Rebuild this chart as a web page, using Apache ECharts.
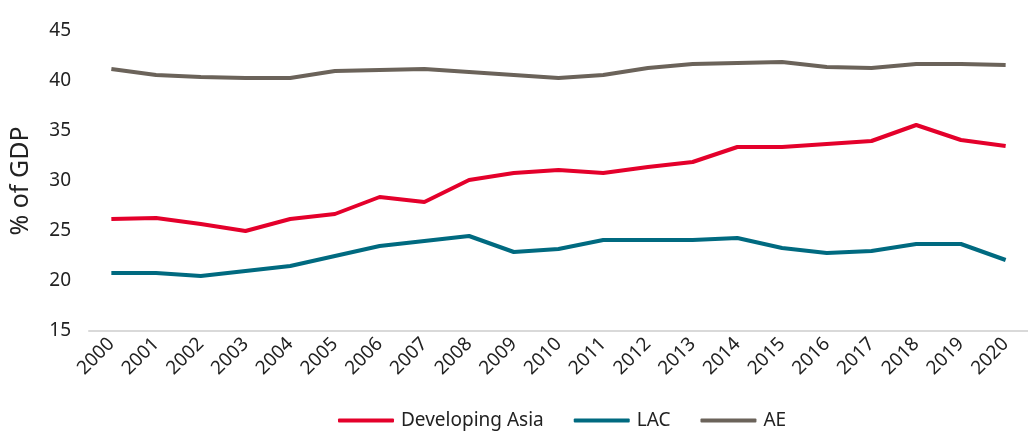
<!DOCTYPE html>
<html>
<head>
<meta charset="utf-8">
<script src="https://cdn.jsdelivr.net/npm/echarts@6/dist/echarts.min.js"></script>
<style>html,body{margin:0;padding:0;background:#fff}#c{width:1028px;height:434px}</style>
</head>
<body>
<div id="c"></div>
<script>
const years = ['2000','2001','2002','2003','2004','2005','2006','2007','2008','2009','2010','2011','2012','2013','2014','2015','2016','2017','2018','2019','2020'];
const developingAsia = [26.2,26.3,25.7,25.0,26.2,26.7,28.4,27.9,30.1,30.8,31.1,30.8,31.4,31.9,33.4,33.4,33.7,34.0,35.6,34.1,33.5];
const lac = [20.8,20.8,20.5,21.0,21.5,22.5,23.5,24.0,24.5,22.9,23.2,24.1,24.1,24.1,24.3,23.3,22.8,23.0,23.7,23.7,22.1];
const ae = [41.2,40.6,40.4,40.3,40.3,41.0,41.1,41.2,40.9,40.6,40.3,40.6,41.3,41.7,41.8,41.9,41.4,41.3,41.7,41.7,41.6];
const yTicks = {min:15, max:45, interval:5};
const font = 'Noto Sans';
const chart = echarts.init(document.getElementById('c'));
const mk = (name, data, color) => ({
  name, type:'line', data, symbol:'none', smooth:false,
  lineStyle:{width:4, color}, itemStyle:{color}
});
chart.setOption({
  animation:false,
  textStyle:{fontFamily:font},
  grid:{left:88, right:0, top:31, bottom:103},
  legend:{
    top:406, left:333, itemWidth:56, itemHeight:4, itemGap:30,
    textStyle:{fontSize:19, color:'#222', fontFamily:font, padding:[0,0,0,2]},
    icon:'roundRect',
    data:['Developing Asia','LAC','AE']
  },
  xAxis:{
    type:'category', data:years, boundaryGap:true,
    axisLine:{lineStyle:{color:'#d9d9d9', width:2}},
    axisTick:{show:false},
    axisLabel:{rotate:45, fontSize:19, color:'#222', margin:10, interval:0, fontFamily:font}
  },
  yAxis:{
    type:'value', min:yTicks.min, max:yTicks.max, interval:yTicks.interval,
    name:'% of GDP', nameLocation:'middle', nameGap:56, nameRotate:90,
    nameTextStyle:{fontSize:25, color:'#222', fontFamily:font},
    axisLine:{show:false}, axisTick:{show:false}, splitLine:{show:false},
    axisLabel:{fontSize:19, color:'#222', margin:18, fontFamily:font}
  },
  series:[
    mk('Developing Asia', developingAsia, '#E4002B'),
    mk('LAC', lac, '#006A80'),
    mk('AE', ae, '#6B635A')
  ]
});
</script>
</body>
</html>
